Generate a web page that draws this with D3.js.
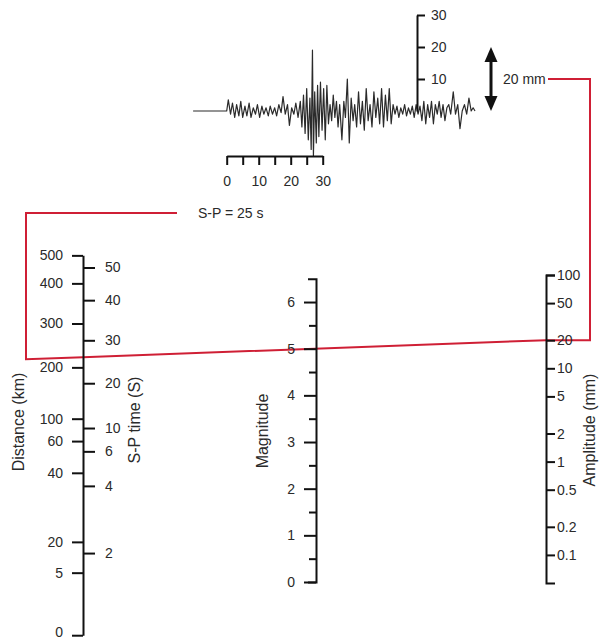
<!DOCTYPE html>
<html>
<head>
<meta charset="utf-8">
<script src="https://cdn.jsdelivr.net/npm/d3@7"></script>
<style>
  body { margin: 0; background: #fff; }
  svg text { font-family: "Liberation Sans", Arial, sans-serif; fill: #2a2a2a; }
</style>
</head>
<body>
<script>
// Distance scale (km) and its Richter correction (-log A0)
var distLabels = ["500", "400", "300", "200", "100", "60", "40", "20", "5", "0"];
var distCorr = [4.79, 4.49, 4.06, 3.59, 3.04, 2.80, 2.46, 1.72, 1.39, 0.72];

// S-P time (s) ticks placed on the same correction scale
var spLabels = ["50", "40", "30", "20", "10", "6", "4", "2"];
var spCorr = [4.66, 4.31, 3.88, 3.42, 2.94, 2.69, 2.32, 1.60];

var magTicks = [0, 1, 2, 3, 4, 5, 6];
var magMinor = [0.5, 1.5, 2.5, 3.5, 4.5, 5.5];
var ampTicks = [100, 50, 20, 10, 5, 2, 1, 0.5, 0.2, 0.1];

// seismogram axes
var timeTicks = [0, 5, 10, 15, 20, 25, 30];
var traceAmpTicks = [10, 20, 30];

// seismogram trace: [time (s), amplitude (mm)]
var trace = [
  [-10.5, 0], [0, 0], [0.5, 3.5], [1.2, -1], [1.8, 2.5], [2.5, -2], [3.1, 2], [3.8, -1.5],
  [4.4, 3], [5, -2], [5.7, 1.5], [6.3, -1.5], [7, 2.5], [7.6, -2], [8.3, 1], [9, -1],
  [9.6, 2], [10.3, -2], [11, 1.5], [11.6, -1], [12.3, 1], [13, -1.5], [13.6, 1.5], [14.3, -1],
  [15, 1], [15.6, -1.5], [16.3, 2], [17, -0.5], [17.6, 4.5], [18.3, -1], [19, 2], [19.6, -4.5],
  [20.3, 1], [21, -1], [21.6, 2.5], [22.3, -2], [23, 3], [23.5, -5], [24, 5], [24.5, -7],
  [25, 7], [25.5, -9], [26, 4], [26.4, -12], [26.8, 19], [27.1, -14], [27.5, 6], [28, -10],
  [28.4, 8], [28.8, -8], [29.3, 9], [29.8, -6], [30.3, 7], [30.8, -9], [31.3, 8], [31.8, -4],
  [32.3, 2], [32.8, -3], [33.3, 5], [33.8, -2], [34.3, 3], [34.8, -5], [35.3, 2], [36, -9],
  [36.6, 3], [37.1, -2], [37.7, 10], [38.3, -10], [38.9, 4], [39.5, -3], [40, 2], [40.6, -5],
  [41.2, 6], [41.8, -4], [42.4, 3], [43, -6], [43.6, 7], [44.2, -3], [44.8, 2], [45.4, -5],
  [46, 6], [46.6, -2], [47.2, 4], [47.8, -4], [48.4, 7], [49, -5], [49.6, 5], [50.2, -3],
  [50.8, 7], [51.4, -4], [52, 2], [52.6, -1], [53.2, 1.5], [53.8, -2], [54.4, 1], [55, -1],
  [55.6, 2], [56.2, -1.5], [56.8, 1], [57.4, -1], [58, 1.5], [58.6, -2], [59.2, 2], [59.8, -1],
  [60.4, 1.5], [61, -3], [61.6, 3], [62.2, -4], [62.8, 2], [63.4, -2], [64, 3], [64.6, -4],
  [65.2, 2], [65.8, -1], [66.4, 3], [67, -2], [67.6, 2], [68.2, -3], [68.8, 1], [69.4, 2],
  [70, -1], [70.8, 6], [71.5, -1], [72.2, 2], [72.9, -5.5], [73.6, 0], [74.3, 2], [75, -1],
  [75.7, 4], [76.4, 0], [77, 1], [77.6, 0]
];

// reading drawn in red
var readAmp = 20, readMag = 5, readSP = "S-P = 25 s";

var width = 599, height = 640;

var svg = d3.select("body").append("svg")
    .attr("width", width)
    .attr("height", height);

// ---- nomogram scales
var xDist = 83, xMag = 316, xAmp = 546;

var yMag = d3.scaleLinear().domain([0, 6.5]).range([582, 278.7]);
var yAmp = d3.scaleLog().domain([0.05, 100]).range([583, 275]);

// distance point lies where amplitude line through magnitude meets: y = 2*yMag(C) - yAmp(1)
var cExt = d3.extent(distCorr);
var yDist = d3.scaleLinear().domain(cExt)
    .range(cExt.map(function(c) { return 2 * yMag(c) - yAmp(1); }));

// ---- seismogram scales
var xTime = d3.scaleLinear().domain([0, 30]).range([226.7, 322.7]);
var yTrace = d3.scaleLinear().domain([0, 30]).range([111, 15]);

function styleAxis(g, fontSize) {
    g.selectAll(".domain").attr("stroke", "#111").attr("stroke-width", 2);
    g.selectAll(".tick line").attr("stroke", "#111").attr("stroke-width", 2);
    g.selectAll(".tick text").attr("font-size", fontSize).attr("fill", "#2a2a2a")
        .style("font-family", '"Liberation Sans", Arial, sans-serif');
}

// trace
var line = d3.line()
    .x(function(d) { return xTime(d[0]); })
    .y(function(d) { return yTrace(d[1]); });

svg.append("path")
    .datum(trace)
    .attr("fill", "none")
    .attr("stroke", "#2b2b2b")
    .attr("stroke-width", 1.2)
    .attr("stroke-linejoin", "round")
    .attr("d", line);

// time axis
var gTime = svg.append("g")
    .attr("transform", "translate(0,156)")
    .call(d3.axisBottom(xTime)
        .tickValues(timeTicks)
        .tickSize(9)
        .tickSizeOuter(0)
        .tickPadding(11)
        .tickFormat(function(d) { return d % 10 === 0 ? d : ""; }));
styleAxis(gTime, 14);

// trace amplitude axis
var gTA = svg.append("g")
    .attr("transform", "translate(417,0)")
    .call(d3.axisRight(yTrace)
        .tickValues(traceAmpTicks)
        .tickSize(8)
        .tickSizeOuter(0)
        .tickPadding(6));
styleAxis(gTA, 14);

// double arrow of 20 mm
var xArrow = 491;
svg.append("line")
    .attr("x1", xArrow).attr("x2", xArrow)
    .attr("y1", yTrace(20) + 8).attr("y2", yTrace(0) - 8)
    .attr("stroke", "#111").attr("stroke-width", 3);
svg.append("path")
    .attr("d", "M" + xArrow + "," + yTrace(20) + "l-6.5,15h13z")
    .attr("fill", "#111");
svg.append("path")
    .attr("d", "M" + xArrow + "," + yTrace(0) + "l-6.5,-15h13z")
    .attr("fill", "#111");
svg.append("text")
    .attr("x", 503).attr("y", yTrace(10))
    .attr("dy", "0.35em")
    .attr("font-size", 14)
    .text(readAmp + " mm");

// ---- red reading line (behind axes)
var cRead = readMag - Math.log10(readAmp);
var pA = [xAmp, yAmp(readAmp)],
    pD = [xDist, yDist(cRead)];
var slope = (pA[1] - pD[1]) / (pA[0] - pD[0]);
var xLeft = 26, xRight = 590, ySP = 213;
var pL = [xLeft, pD[1] + slope * (xLeft - pD[0])];

svg.insert("path", ":first-child")
    .datum([[177, ySP], [xLeft, ySP], pL, pD, pA, [xRight, pA[1]],
            [xRight, yTrace(10)], [548, yTrace(10)]])
    .attr("fill", "none")
    .attr("stroke", "#cf1f35")
    .attr("stroke-width", 2)
    .attr("d", d3.line());

svg.append("text")
    .attr("x", 198).attr("y", ySP)
    .attr("dy", "0.35em")
    .attr("font-size", 14)
    .text(readSP);

// ---- distance / S-P axis
var gDist = svg.append("g")
    .attr("transform", "translate(" + xDist + ",0)")
    .call(d3.axisLeft(yDist)
        .tickValues(distCorr)
        .tickSize(11)
        .tickSizeOuter(0)
        .tickPadding(9)
        .tickFormat(function(d, i) { return distLabels[i]; }));
styleAxis(gDist, 14);
// keep the bottom "0" inside the frame
gDist.selectAll(".tick text")
    .filter(function(d, i) { return i === distLabels.length - 1; })
    .attr("dy", "0.1em");

var gSP = svg.append("g")
    .attr("transform", "translate(" + xDist + ",0)")
    .call(d3.axisRight(yDist)
        .tickValues(spCorr)
        .tickSize(12)
        .tickPadding(10)
        .tickFormat(function(d, i) { return spLabels[i]; }));
gSP.select(".domain").remove();
styleAxis(gSP, 14);

// ---- magnitude axis
var gMag = svg.append("g")
    .attr("transform", "translate(" + xMag + ",0)")
    .call(d3.axisLeft(yMag)
        .tickValues(magTicks)
        .tickSize(12)
        .tickSizeOuter(8)
        .tickPadding(9)
        .tickFormat(d3.format("d")));
styleAxis(gMag, 14);

var gMagMinor = svg.append("g")
    .attr("transform", "translate(" + xMag + ",0)")
    .call(d3.axisLeft(yMag)
        .tickValues(magMinor)
        .tickSize(7)
        .tickFormat(""));
gMagMinor.select(".domain").remove();
styleAxis(gMagMinor, 14);

// ---- amplitude axis
var gAmp = svg.append("g")
    .attr("transform", "translate(" + xAmp + ",0)")
    .call(d3.axisRight(yAmp)
        .tickValues(ampTicks)
        .tickSize(9)
        .tickSizeOuter(9)
        .tickPadding(2)
        .tickFormat(function(d) { return String(d); }));
styleAxis(gAmp, 14);

// ---- axis titles
var titles = [
    { text: "Distance (km)", x: 18, y: 422 },
    { text: "S-P time (S)", x: 134, y: 420 },
    { text: "Magnitude", x: 262, y: 431 },
    { text: "Amplitude (mm)", x: 589, y: 430 }
];
svg.selectAll(".title")
    .data(titles)
    .enter()
    .append("text")
    .attr("class", "title")
    .attr("transform", function(d) { return "translate(" + d.x + "," + d.y + ") rotate(-90)"; })
    .attr("text-anchor", "middle")
    .attr("dy", "0.35em")
    .attr("font-size", 16)
    .text(function(d) { return d.text; });
</script>
</body>
</html>
